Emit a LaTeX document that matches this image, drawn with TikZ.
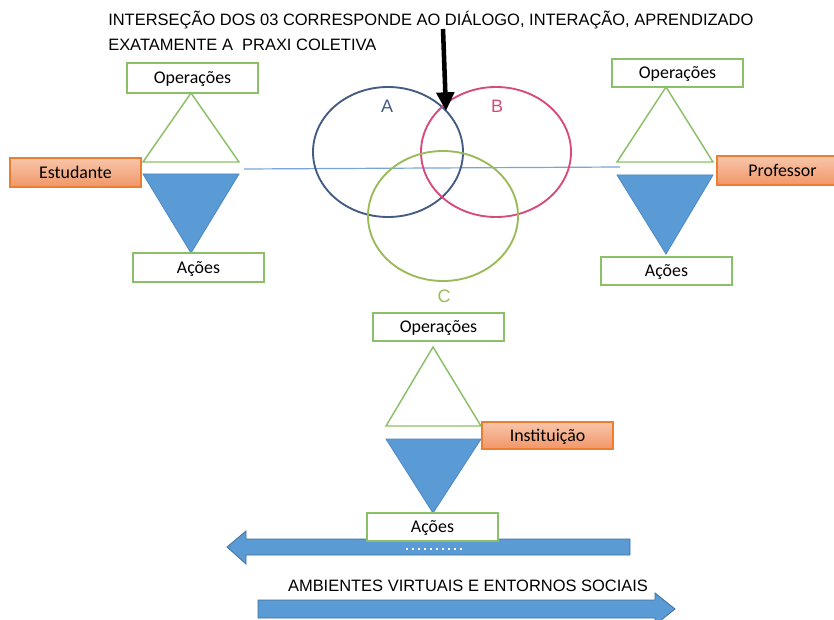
\documentclass[tikz,border=0pt]{standalone}
\usepackage{fontspec}
\setmainfont{Carlito}
\newfontfamily\arialfont{Liberation Sans}
\usetikzlibrary{arrows.meta,shapes.arrows}
\definecolor{boxgreen}{RGB}{140,192,104}
\definecolor{orangeedge}{RGB}{237,125,49}
\definecolor{orangetop}{RGB}{248,198,170}
\definecolor{orangebot}{RGB}{241,150,104}
\definecolor{triblue}{RGB}{91,155,213}
\definecolor{triedge}{RGB}{76,136,196}
\definecolor{arrowedge}{RGB}{65,113,156}
\definecolor{circA}{RGB}{68,92,130}
\definecolor{circB}{RGB}{214,74,124}
\definecolor{circC}{RGB}{155,187,89}
\definecolor{linkblue}{RGB}{120,165,215}
\tikzset{
  boxtext/.style={inner sep=0pt, text height=8.6pt, text depth=0pt, font=\fontsize{13.4}{16}\selectfont},
  greenbox/.style={boxtext, draw=boxgreen, line width=1.1pt, fill=white, minimum width=131*0.75pt,
    minimum height=28*0.75pt},
  orangebox/.style={boxtext, draw=orangeedge, line width=0.9pt, top color=orangetop, bottom color=orangebot,
    minimum width=131*0.75pt, minimum height=29*0.75pt},
  uptri/.style={draw=boxgreen, line width=1.1pt, fill=white},
  downtri/.style={draw=triedge, line width=0.6pt, fill=triblue},
  venn/.style={line width=1.4pt},
  vennlabel/.style={font=\arialfont\fontsize{13.5}{16}\selectfont},
  caption/.style={font=\arialfont\fontsize{12.35}{15}\selectfont, anchor=base west, inner sep=0pt},
  flowarrow/.style={fill=triblue, draw=arrowedge, line width=0.6pt}
}
\begin{document}
\begin{tikzpicture}[x=0.75pt, y=-0.75pt]
\clip (0,0) rectangle (834,620);
\fill[white] (0,0) rectangle (834,620);

% header text
\node[caption] (head1) at (108,26) {INTERSEÇÃO DOS 03 CORRESPONDE AO DIÁLOGO, INTERAÇÃO, APRENDIZADO};
\node[caption] (head2) at (108,51) {EXATAMENTE A \ PRAXI COLETIVA};

% thin line joining Estudante and Professor
\coordinate (lineL) at (244,169);
\coordinate (lineR) at (620,167);
\draw[linkblue, line width=0.9pt] (lineL) -- (lineR);

% Venn circles
\draw[venn, circA] (388,152) ellipse [x radius=75, y radius=65];
\draw[venn, circB] (496,152) ellipse [x radius=75, y radius=65];
\draw[venn, circC] (443,216) ellipse [x radius=75, y radius=65];
\node[vennlabel, text=circA] (labA) at (387,106) {A};
\node[vennlabel, text=circB] (labB) at (497,106) {B};
\node[vennlabel, text=circC] (labC) at (444,296) {C};

% pointer to the common intersection
\coordinate (ptrTop) at (443,29);
\coordinate (ptrTip) at (446,111);
\draw[line width=3.4pt, -{Triangle[length=14pt, width=13pt]}] (ptrTop) -- (ptrTip);

% left group: Estudante
\draw[uptri] (191,93) -- (239,162) -- (143,162) -- cycle;
\draw[downtri] (143,174) -- (239,174) -- (191,253) -- cycle;
\node[greenbox, minimum height=30*0.75pt] (opL) at (192.5,78) {Operações};
\node[orangebox] (estudante) at (75.5,172.5) {Estudante};
\node[greenbox, minimum height=29*0.75pt] (acL) at (198.5,267.5) {Ações};

% right group: Professor
\draw[uptri] (666,87) -- (713,162) -- (617,162) -- cycle;
\draw[downtri] (617,175) -- (713,175) -- (666,254) -- cycle;
\node[greenbox] (opR) at (677.5,73) {Operações};
\node[orangebox] (professor) at (782.5,170.5) {Professor};
\node[greenbox] (acR) at (666.5,271) {Ações};

% centre group: Instituição
\draw[uptri] (433,347) -- (481,426) -- (386,426) -- cycle;
\draw[downtri] (386,439) -- (481,439) -- (433,513) -- cycle;
\node[greenbox] (opC) at (438.5,327) {Operações};
\node[orangebox, minimum height=27*0.75pt] (instituicao) at (547.5,435.5) {Instituição};

% bottom arrows
\draw[flowarrow] (630,539) -- (246,539) -- (246,531) -- (227,547) -- (246,564) -- (246,555) -- (630,555) -- cycle;
\draw[white, line width=0.8pt, dash pattern=on 1.5pt off 3pt] (406,549) -- (465,549);
\node[greenbox] (acC) at (432.5,527) {Ações};
\node[caption, anchor=center] (ambientes) at (468,586) {AMBIENTES VIRTUAIS E ENTORNOS SOCIAIS};
\draw[flowarrow] (258,600) -- (655,600) -- (655,593) -- (675,609) -- (655,625) -- (655,618) -- (258,618) -- cycle;
\end{tikzpicture}
\end{document}
